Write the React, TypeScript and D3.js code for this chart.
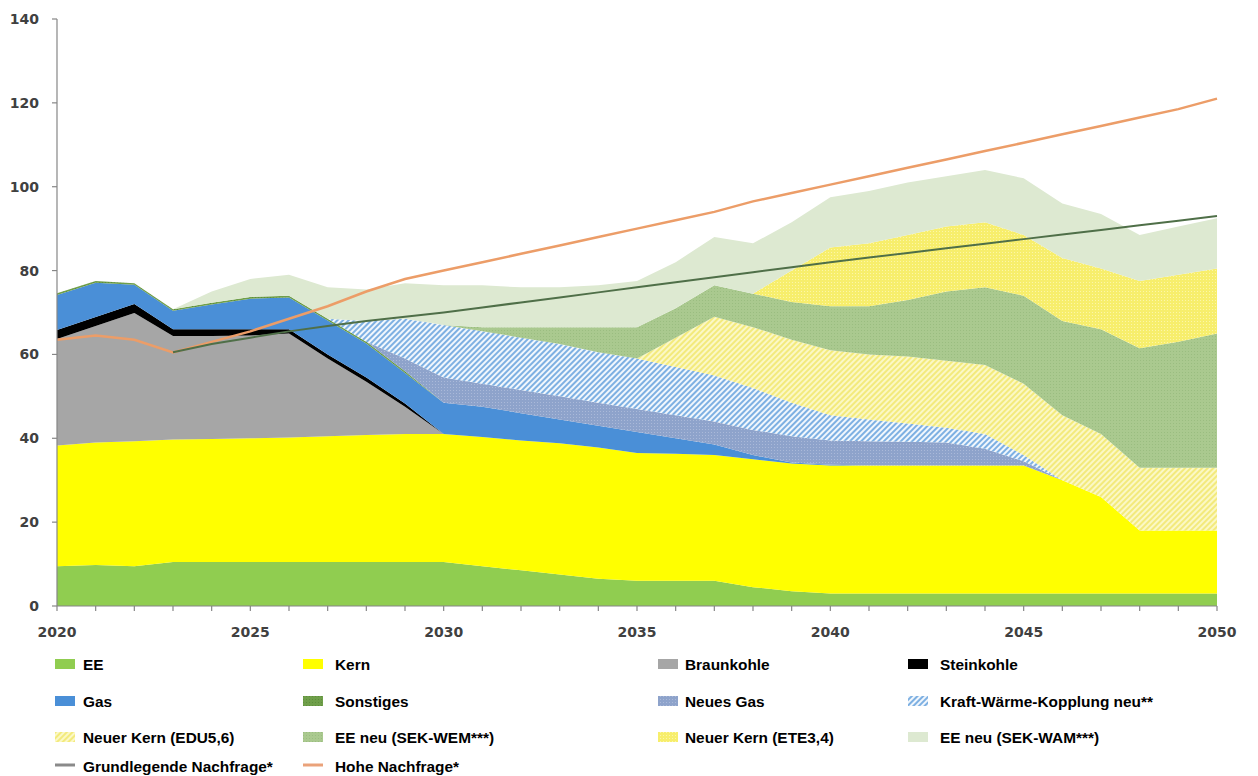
import React from "react";
import * as d3 from "d3";

// categories
const years = [
  2020, 2021, 2022, 2023, 2024, 2025, 2026, 2027, 2028, 2029, 2030,
  2031, 2032, 2033, 2034, 2035, 2036, 2037, 2038, 2039, 2040,
  2041, 2042, 2043, 2044, 2045, 2046, 2047, 2048, 2049, 2050,
];

// stacked series (bottom to top)
const ee = [9.5, 9.8, 9.5, 10.5, 10.5, 10.5, 10.5, 10.5, 10.5, 10.5, 10.5, 9.5, 8.5, 7.5, 6.5, 6, 6, 6, 4.5, 3.5, 3, 3, 3, 3, 3, 3, 3, 3, 3, 3, 3];
const kern = [28.8, 29.2, 29.8, 29.2, 29.3, 29.5, 29.7, 30, 30.3, 30.5, 30.5, 30.8, 31, 31.3, 31.3, 30.5, 30.3, 30, 30.5, 30.5, 30.5, 30.5, 30.5, 30.5, 30.5, 30.5, 27, 23, 15, 15, 15];
const braunkohle = [25.4, 27.8, 30.6, 24.7, 24.6, 24.5, 24.8, 18.5, 12.7, 6.5, 0, 0, 0, 0, 0, 0, 0, 0, 0, 0, 0, 0, 0, 0, 0, 0, 0, 0, 0, 0, 0];
const steinkohle = [2.1, 2.1, 2.1, 1.6, 1.6, 1.5, 1.0, 1.0, 1.0, 0.8, 0, 0, 0, 0, 0, 0, 0, 0, 0, 0, 0, 0, 0, 0, 0, 0, 0, 0, 0, 0, 0];
const gas = [8.4, 8.2, 4.6, 4.4, 5.9, 7.3, 7.6, 8.1, 8.1, 7.3, 7.5, 7.2, 6.5, 5.7, 5.2, 5, 3.7, 2.5, 1, 0.2, 0.2, 0, 0, 0, 0, 0, 0, 0, 0, 0, 0];
const sonstiges = [0.4, 0.4, 0.4, 0.4, 0.4, 0.4, 0.4, 0.4, 0.4, 0.4, 0, 0, 0, 0, 0, 0, 0, 0, 0, 0, 0, 0, 0, 0, 0, 0, 0, 0, 0, 0, 0];
const neuesGas = [0, 0, 0, 0, 0, 0, 0, 0, 0, 3, 6, 5.5, 5.5, 5.5, 5.5, 5.5, 5.5, 5.5, 6, 6.3, 5.8, 5.8, 5.7, 5.5, 4, 1, 0, 0, 0, 0, 0];
const kwkNeu = [0, 0, 0, 0, 0, 0, 0, 0, 5, 9.5, 12.5, 12.5, 12.5, 12.5, 12, 12, 11.5, 11, 10, 8, 6, 5.2, 4.3, 3.5, 3.5, 1.5, 0, 0, 0, 0, 0];
const kernEdu = [0, 0, 0, 0, 0, 0, 0, 0, 0, 0, 0, 0, 0, 0, 0, 0, 7, 14, 14.5, 15, 15.5, 15.5, 16, 16, 16.5, 17, 15.5, 15, 15, 15, 15];
const eeWem = [0, 0, 0, 0, 0, 0, 0, 0, 0, 0, 0, 1, 2.5, 4, 6, 7.5, 7, 7.5, 8, 9, 10.5, 11.5, 13.5, 16.5, 18.5, 21, 22.5, 25, 28.5, 30, 32];
const kernEte = [0, 0, 0, 0, 0, 0, 0, 0, 0, 0, 0, 0, 0, 0, 0, 0, 0, 0, 0, 7.5, 14, 15, 15.5, 15.5, 15.5, 14.5, 15, 14.5, 16, 16, 15.5];
const eeWam = [0, 0, 0, 0, 2.7, 4.3, 5, 7.5, 7.5, 8.5, 9.5, 10, 9.5, 9.5, 10, 11, 11, 11.5, 12, 11.5, 12, 12.5, 12.5, 12, 12.5, 13.5, 13, 13, 11, 11.5, 12];

// demand lines
const grundNachfrage = [null, null, null, 60.5, 62.5, 64, 65.5, 66.8, 68, 69, 70, 71.2, 72.4, 73.6, 74.8, 76, 77.2, 78.4, 79.6, 80.8, 82, 83.1, 84.2, 85.3, 86.4, 87.5, 88.6, 89.7, 90.8, 91.9, 93];
const hoheNachfrage = [63.5, 64.5, 63.5, 60.5, 63, 65.5, 68.5, 71.5, 75, 78, 80, 82, 84, 86, 88, 90, 92, 94, 96.5, 98.5, 100.5, 102.5, 104.5, 106.5, 108.5, 110.5, 112.5, 114.5, 116.5, 118.5, 121];

// axis labels
const yTicks = [0, 20, 40, 60, 80, 100, 120, 140];
const xLabels = [2020, 2025, 2030, 2035, 2040, 2045, 2050];

const layerKeys = ["ee", "kern", "braunkohle", "steinkohle", "gas", "sonstiges", "neuesGas", "kwkNeu", "kernEdu", "eeWem", "kernEte", "eeWam"];
const layerNames = ["EE", "Kern", "Braunkohle", "Steinkohle", "Gas", "Sonstiges", "Neues Gas", "Kraft-Wärme-Kopplung neu**", "Neuer Kern (EDU5,6)", "EE neu (SEK-WEM***)", "Neuer Kern (ETE3,4)", "EE neu (SEK-WAM***)"];
const layerValues = [ee, kern, braunkohle, steinkohle, gas, sonstiges, neuesGas, kwkNeu, kernEdu, eeWem, kernEte, eeWam];
const layerFills = ["#90cd50", "#ffff00", "#a6a6a6", "#000000", "#4a8fd7", "url(#pSonst)", "url(#pNeuGas)", "url(#pKwk)", "url(#pEdu)", "url(#pWem)", "url(#pEte)", "#dde9d1"];
const lineNames = ["Grundlegende Nachfrage*", "Hohe Nachfrage*"];

export default function App() {
  const width = 1258;
  const height = 776;
  const x = d3.scaleLinear().domain([2020, 2050]).range([57, 1217]);
  const y = d3.scaleLinear().domain([0, 140]).range([606, 19]);

  const rows = years.map((yr, i) => {
    const r: any = { year: yr };
    layerKeys.forEach((k, j) => (r[k] = layerValues[j][i]));
    return r;
  });
  const series = d3.stack<any>().keys(layerKeys)(rows);
  const area = d3
    .area<any>()
    .x((d) => x(d.data.year))
    .y0((d) => y(d[0]))
    .y1((d) => y(d[1]));
  const line = d3
    .line<any>()
    .defined((d) => d[1] != null)
    .x((d) => x(d[0]))
    .y((d) => y(d[1]));

  const tickFont = { fontFamily: "'DejaVu Sans', Verdana, sans-serif", fontWeight: 700, fontSize: 14, fill: "#404040" };
  const legFont = { fontFamily: "'Liberation Sans', Arial, sans-serif", fontWeight: 700, fontSize: 15.4, fill: "#000" };

  // legend layout
  const colSwatch = [55, 303, 658, 908];
  const colText = [83, 335, 685, 940];
  const rowY = [664, 701, 737, 766];
  const legendItems = [
    ...layerNames.map((n, i) => ({ name: n, fill: layerFills[i], kind: "area" })),
    { name: lineNames[0], fill: "#8a8a8a", kind: "line" },
    { name: lineNames[1], fill: "#eaa27a", kind: "line" },
  ];

  return (
    <>
      <style>{"body{margin:0}"}</style>
      <svg width={width} height={height} style={{ display: "block", background: "#fff" }}>
        <defs>
          <pattern id="pKwk" patternUnits="userSpaceOnUse" width="4" height="4" patternTransform="rotate(45)">
            <rect width="4" height="4" fill="#f1f7fd" />
            <rect width="2" height="4" fill="#7eb0e2" />
          </pattern>
          <pattern id="pEdu" patternUnits="userSpaceOnUse" width="4" height="4" patternTransform="rotate(45)">
            <rect width="4" height="4" fill="#fbf8c6" />
            <rect width="2" height="4" fill="#f3ea7c" />
          </pattern>
          <pattern id="pNeuGas" patternUnits="userSpaceOnUse" width="3" height="3">
            <rect width="3" height="3" fill="#8ea3cb" />
            <rect width="1" height="1" fill="#aab9d9" />
          </pattern>
          <pattern id="pWem" patternUnits="userSpaceOnUse" width="3" height="3">
            <rect width="3" height="3" fill="#aac98f" />
            <rect width="1" height="1" fill="#9abd80" />
          </pattern>
          <pattern id="pEte" patternUnits="userSpaceOnUse" width="3" height="3">
            <rect width="3" height="3" fill="#f7ee6c" />
            <rect width="1" height="1" fill="#fcf6a8" />
          </pattern>
          <pattern id="pSonst" patternUnits="userSpaceOnUse" width="3" height="3">
            <rect width="3" height="3" fill="#6f9f4a" />
            <rect width="1" height="1" fill="#5e8d3c" />
          </pattern>
        </defs>

        {/* stacked areas */}
        <g>
          {series.map((s, i) => (
            <path key={s.key} d={area(s) || ""} fill={layerFills[i]} />
          ))}
        </g>

        {/* demand lines */}
        <path
          d={line(years.map((yr, i) => [yr, hoheNachfrage[i]])) || ""}
          fill="none"
          stroke="#ec9d68"
          strokeWidth={2.5}
        />
        <path
          d={line(years.map((yr, i) => [yr, grundNachfrage[i]])) || ""}
          fill="none"
          stroke="#4f6f48"
          strokeWidth={2}
        />

        {/* y axis */}
        <line x1={x(2020)} x2={x(2020)} y1={y(140)} y2={y(0)} stroke="#868686" strokeWidth={1.2} />
        {yTicks.map((t) => (
          <g key={t}>
            <line x1={x(2020) - 5} x2={x(2020)} y1={y(t)} y2={y(t)} stroke="#868686" strokeWidth={1.2} />
            <text x={39} y={y(t)} dy="0.36em" textAnchor="end" {...tickFont}>
              {t}
            </text>
          </g>
        ))}

        {/* x axis */}
        <line x1={x(2020)} x2={x(2050)} y1={y(0)} y2={y(0)} stroke="#868686" strokeWidth={1.2} />
        {years.map((yr) => (
          <line key={yr} x1={x(yr)} x2={x(yr)} y1={y(0)} y2={y(0) + 5} stroke="#868686" strokeWidth={1.2} />
        ))}
        {xLabels.map((yr) => (
          <text key={yr} x={x(yr)} y={637} textAnchor="middle" {...tickFont}>
            {yr}
          </text>
        ))}

        {/* legend */}
        {legendItems.map((it, i) => {
          const c = i % 4;
          const r = Math.floor(i / 4);
          const cy = rowY[r];
          return (
            <g key={it.name}>
              {it.kind === "area" ? (
                <rect x={colSwatch[c]} y={cy - 5} width={20} height={10} fill={it.fill} />
              ) : (
                <line x1={colSwatch[c]} x2={colSwatch[c] + 20} y1={cy - 1} y2={cy - 1} stroke={it.fill} strokeWidth={3} />
              )}
              <text x={colText[c]} y={cy + 5.5} {...legFont}>
                {it.name}
              </text>
            </g>
          );
        })}
      </svg>
    </>
  );
}
